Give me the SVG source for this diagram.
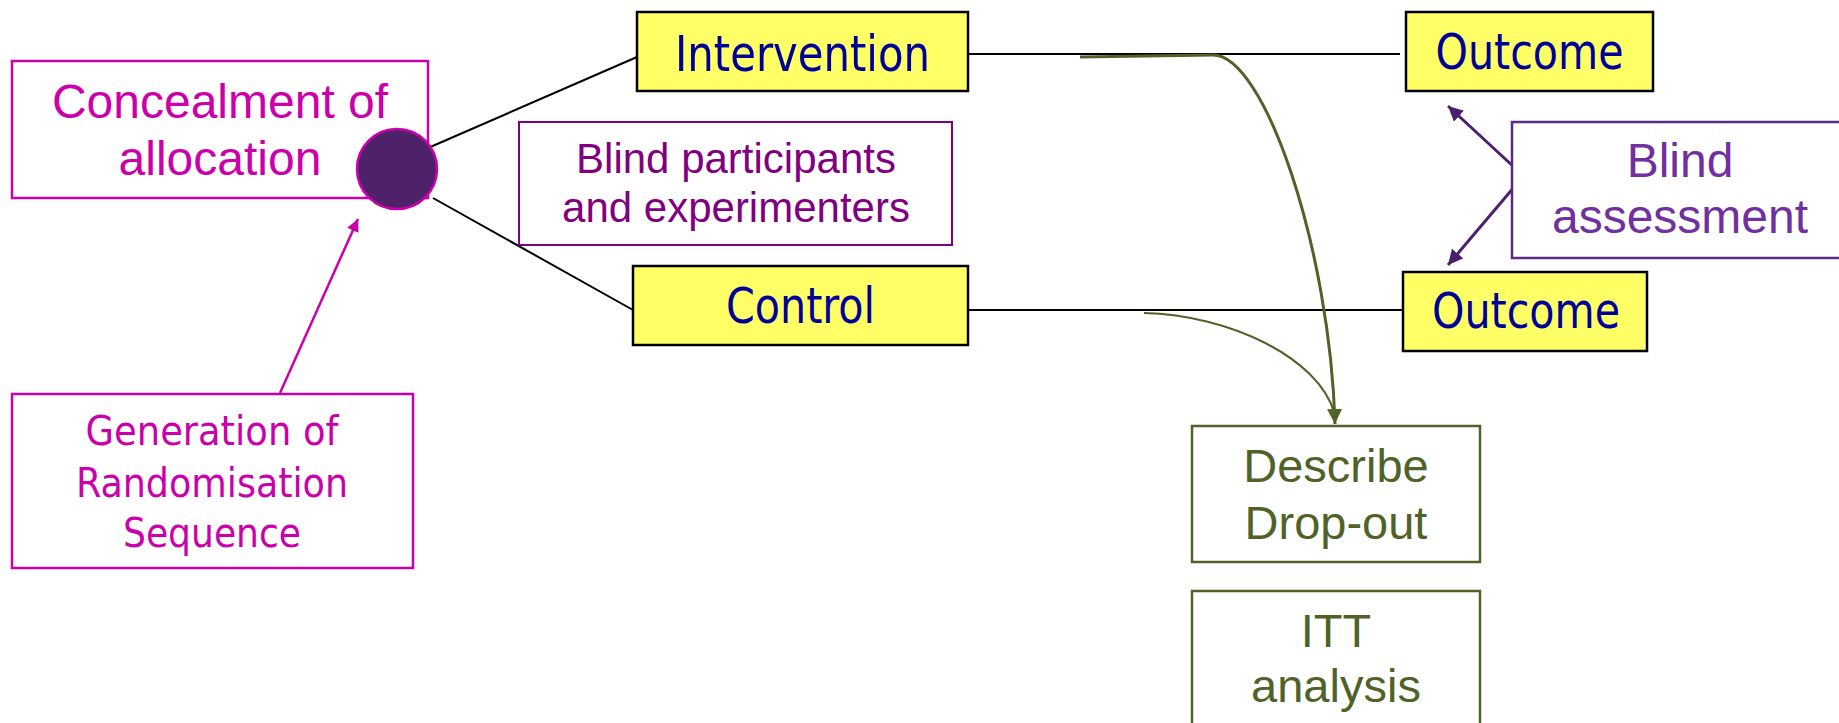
<svg xmlns="http://www.w3.org/2000/svg" width="1839" height="723" viewBox="0 0 1839 723">
  <defs>
    <style>
      .arial { font-family: "Liberation Sans", Arial, sans-serif; text-anchor: middle; }
      .taho { font-family: "DejaVu Sans Condensed", "DejaVu Sans", sans-serif; text-anchor: middle; }
      .arm { fill: #ffff66; stroke: #000000; stroke-width: 2.5; }
      .arm-text { fill: #000099; font-size: 50px; }
      .pink-box { fill: #ffffff; stroke: #cc00aa; stroke-width: 2.5; }
      .pink-text { fill: #cc00aa; }
      .purple-box { fill: #ffffff; stroke: #800080; stroke-width: 2; }
      .violet-box { fill: #ffffff; stroke: #5c2a86; stroke-width: 2.5; }
      .green-box { fill: #ffffff; stroke: #4f6228; stroke-width: 2.5; }
      .green-text { fill: #4f6228; font-size: 47px; }
      .link { fill: none; stroke: #000000; stroke-width: 2; }
      .flow { fill: none; stroke: #4f6228; }
    </style>
    <marker id="pinkHead" viewBox="0 0 10 10" refX="10" refY="5" markerWidth="5" markerHeight="5" markerUnits="strokeWidth" orient="auto">
      <path d="M0,0 L10,5 L0,10 z" fill="#cc00aa"/>
    </marker>
    <marker id="violetHead" viewBox="0 0 10 10" refX="10" refY="5" markerWidth="5" markerHeight="5" markerUnits="strokeWidth" orient="auto">
      <path d="M0,0 L10,5 L0,10 z" fill="#4b1f6f"/>
    </marker>
    <marker id="greenHead" viewBox="0 0 10 10" refX="10" refY="5" markerWidth="5" markerHeight="5" markerUnits="strokeWidth" orient="auto">
      <path d="M0,0 L10,5 L0,10 z" fill="#4f6228"/>
    </marker>
  </defs>

  <rect width="1839" height="723" fill="#ffffff"/>

  <!-- connectors -->
  <g id="connectors">
    <line class="link" x1="428" y1="148" x2="637" y2="57"/>
    <line class="link" x1="433" y1="198" x2="633" y2="310"/>
    <line class="link" x1="968" y1="54" x2="1400" y2="54"/>
    <line class="link" x1="968" y1="310" x2="1403" y2="310"/>
    <line x1="280" y1="393" x2="358" y2="219" stroke="#cc00aa" stroke-width="2.5" marker-end="url(#pinkHead)"/>
    <line x1="1515" y1="168" x2="1448" y2="106" stroke="#4b1f6f" stroke-width="3" marker-end="url(#violetHead)"/>
    <line x1="1515" y1="186" x2="1448" y2="265" stroke="#4b1f6f" stroke-width="3" marker-end="url(#violetHead)"/>
    <path class="flow" stroke-width="2" d="M1144,313 C1230,315 1318,358 1334,412"/>
    <path class="flow" stroke-width="3" d="M1080,57 L1213,55 C1265,55 1330,250 1335,424" marker-end="url(#greenHead)"/>
  </g>

  <!-- allocation concealment -->
  <g id="concealment">
    <rect class="pink-box" x="12" y="61" width="416" height="137"/>
    <text class="arial pink-text" x="220" y="118" font-size="48">Concealment of</text>
    <text class="arial pink-text" x="220" y="175" font-size="48">allocation</text>
  </g>

  <g id="randomisation-point">
    <circle cx="397" cy="169" r="40" fill="#4d2268" stroke="#cc00aa" stroke-width="2.5"/>
  </g>

  <g id="sequence-generation">
    <rect class="pink-box" x="12" y="394" width="401" height="174"/>
    <text class="taho pink-text" x="212" y="445" font-size="40" textLength="253" lengthAdjust="spacingAndGlyphs">Generation of</text>
    <text class="taho pink-text" x="212" y="497" font-size="40" textLength="272" lengthAdjust="spacingAndGlyphs">Randomisation</text>
    <text class="taho pink-text" x="212" y="547" font-size="40" textLength="178" lengthAdjust="spacingAndGlyphs">Sequence</text>
  </g>

  <g id="intervention">
    <rect class="arm" x="637" y="12" width="331" height="79"/>
    <text class="taho arm-text" x="802.5" y="71" textLength="255" lengthAdjust="spacingAndGlyphs">Intervention</text>
  </g>

  <g id="control">
    <rect class="arm" x="633" y="266" width="335" height="79"/>
    <text class="taho arm-text" x="800.5" y="323" textLength="149" lengthAdjust="spacingAndGlyphs">Control</text>
  </g>

  <g id="blinding">
    <rect class="purple-box" x="519" y="122" width="433" height="123"/>
    <text class="arial" x="736" y="173" font-size="42" fill="#800080">Blind participants</text>
    <text class="arial" x="736" y="222" font-size="42" fill="#800080">and experimenters</text>
  </g>

  <g id="outcome-intervention">
    <rect class="arm" x="1406" y="12" width="247" height="79"/>
    <text class="taho arm-text" x="1529.5" y="69" textLength="188" lengthAdjust="spacingAndGlyphs">Outcome</text>
  </g>

  <g id="outcome-control">
    <rect class="arm" x="1403" y="272" width="244" height="79"/>
    <text class="taho arm-text" x="1526" y="328" textLength="188" lengthAdjust="spacingAndGlyphs">Outcome</text>
  </g>

  <g id="blind-assessment">
    <rect class="violet-box" x="1512" y="122" width="340" height="136"/>
    <text class="arial" x="1680" y="177" font-size="48" fill="#7030a0">Blind</text>
    <text class="arial" x="1680" y="233" font-size="48" fill="#7030a0">assessment</text>
  </g>

  <g id="dropout">
    <rect class="green-box" x="1192" y="426" width="288" height="136"/>
    <text class="arial green-text" x="1336" y="482">Describe</text>
    <text class="arial green-text" x="1336" y="539">Drop-out</text>
  </g>

  <g id="itt">
    <rect class="green-box" x="1192" y="591" width="288" height="150"/>
    <text class="arial green-text" x="1336" y="647">ITT</text>
    <text class="arial green-text" x="1336" y="702">analysis</text>
  </g>
</svg>
